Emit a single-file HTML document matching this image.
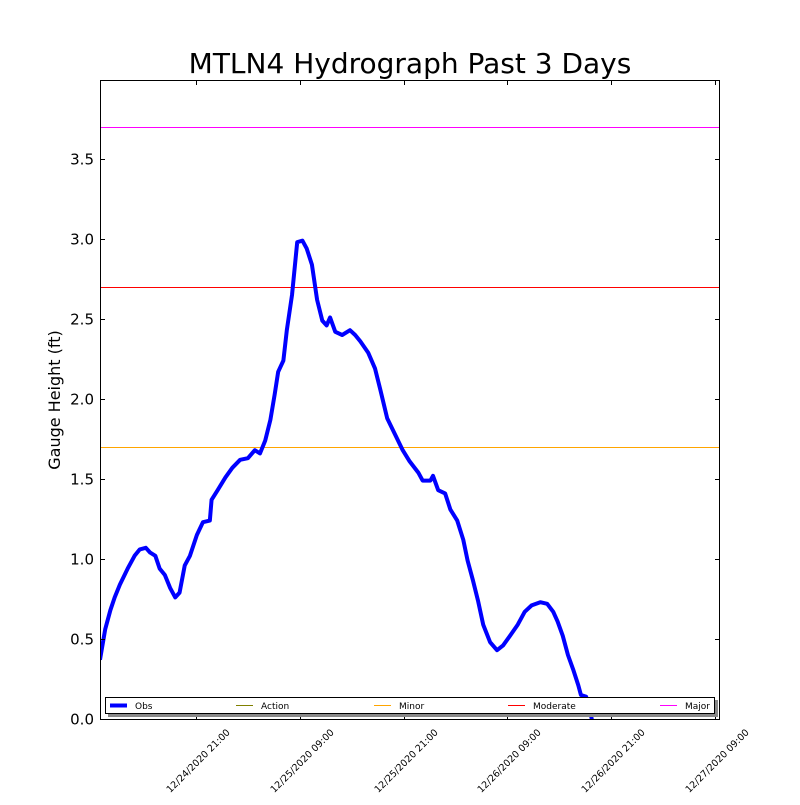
<!DOCTYPE html>
<html><head><meta charset="utf-8"><style>
body{margin:0;background:#fff}
svg text{font-family:"DejaVu Sans","Liberation Sans",sans-serif}
</style></head><body>
<svg id="chart" width="800" height="800" xmlns="http://www.w3.org/2000/svg">
<rect width="800" height="800" fill="#fff"/>
<text x="410" y="73" font-size="28" text-anchor="middle">MTLN4 Hydrograph Past 3 Days</text>
<text transform="translate(60,400) rotate(-90)" font-size="16" text-anchor="middle">Gauge Height (ft)</text>
<defs><clipPath id="plotclip"><rect x="100" y="80" width="620" height="640"/></clipPath></defs>
<g id="thresholds" clip-path="url(#plotclip)"></g>
<g id="series" clip-path="url(#plotclip)"></g>
<rect x="100.5" y="80.5" width="619" height="639" fill="none" stroke="#000" stroke-width="1"/>
<g id="yticks"></g>
<g id="xticks"></g>
<g>
<rect x="108" y="700" width="610" height="17" fill="#888"/>
<rect x="105.5" y="697.5" width="609" height="16" fill="#fff" stroke="#000" stroke-width="1"/>
<g id="legend-items"></g>
</g>
</svg>
<script>
const hours=[9.9,10.5,11.1,11.6,12.2,13.1,13.9,14.5,15.2,15.7,16.3,16.8,17.4,18.0,18.6,19.1,19.7,20.3,21.1,21.8,22.6,22.8,23.5,24.4,25.2,26.1,27.0,27.8,28.4,29.0,29.6,30.1,30.5,31.1,31.5,32.1,32.7,33.3,33.8,34.4,35.0,35.6,36.1,36.5,37.1,37.9,38.8,39.4,40.0,40.9,41.7,42.3,43.1,44.0,44.9,45.7,46.7,47.2,48.1,48.4,49.0,49.8,50.4,51.2,51.9,52.4,53.0,53.6,54.2,55.0,55.8,56.5,57.3,58.2,59.0,59.8,60.8,61.6,62.3,62.8,63.4,64.0,64.6,65.2,65.5,66.1,66.6,66.9];
const stage=[0.37,0.56,0.68,0.76,0.84,0.94,1.02,1.06,1.07,1.04,1.02,0.94,0.90,0.82,0.76,0.79,0.96,1.02,1.15,1.23,1.24,1.37,1.43,1.51,1.57,1.62,1.63,1.68,1.66,1.74,1.87,2.03,2.17,2.24,2.43,2.65,2.98,2.99,2.94,2.84,2.62,2.49,2.46,2.51,2.42,2.40,2.43,2.40,2.36,2.29,2.19,2.06,1.88,1.78,1.68,1.61,1.54,1.49,1.49,1.52,1.43,1.41,1.31,1.24,1.12,0.99,0.87,0.74,0.59,0.48,0.43,0.46,0.52,0.59,0.67,0.71,0.73,0.72,0.67,0.61,0.52,0.40,0.31,0.21,0.15,0.14,0.04,-0.04];
const thresholdNames=["Action","Minor","Moderate","Major"];
const thresholdValues=[null,1.7,2.7,3.7];
const thresholdColors=["#808000","#ffa500","#ff0000","#ff00ff"];
const yTicks=[0.0,0.5,1.0,1.5,2.0,2.5,3.0,3.5];
const xTickHours=[21,33,45,57,69,81];
const xTickLabels=["12/24/2020 21:00","12/25/2020 09:00","12/25/2020 21:00","12/26/2020 09:00","12/26/2020 21:00","12/27/2020 09:00"];
const NS="http://www.w3.org/2000/svg";
const X=h=>196+(h-21)*8.65;
const Y=v=>719-v*160;
function mk(tag,attrs,parent){const e=document.createElementNS(NS,tag);for(const k in attrs)e.setAttribute(k,attrs[k]);parent.appendChild(e);return e;}
const th=document.getElementById('thresholds');
thresholdValues.forEach((v,i)=>{if(v===null)return;
 const yy=Math.round(Y(v))+0.5;
 const l=mk('line',{x1:100,x2:720,y1:yy,y2:yy,stroke:thresholdColors[i],'stroke-width':1},th);
 
 });
const s=document.getElementById('series');
const p=mk('polyline',{points:hours.map((h,i)=>X(h)+','+Y(stage[i])).join(' '),fill:'none',stroke:'#0000ff','stroke-width':4,'stroke-linejoin':'round'},s);


const yt=document.getElementById('yticks');
yTicks.forEach(v=>{const y=Math.round(Y(v))+0.5;
 mk('line',{x1:100,x2:105,y1:y,y2:y,stroke:'#000'},yt);
 mk('line',{x1:715,x2:720,y1:y,y2:y,stroke:'#000'},yt);
 const t=mk('text',{x:94,y:y+5,'font-size':15,'text-anchor':'end'},yt);t.textContent=v.toFixed(1);
 
 });
const xt=document.getElementById('xticks');
xTickHours.forEach((h,i)=>{const x=Math.round(X(h))+0.5;
 mk('line',{x1:x,x2:x,y1:720,y2:715,stroke:'#000'},xt);
 mk('line',{x1:x,x2:x,y1:80,y2:85,stroke:'#000'},xt);
 const t=mk('text',{transform:`translate(${x+34},${733}) rotate(-45)`,'font-size':9.5,'text-anchor':'end'},xt);t.textContent=xTickLabels[i];
 
 });
const lg=document.getElementById('legend-items');
const names=["Obs"].concat(thresholdNames);const cols=["#0000ff"].concat(thresholdColors);
const lx=[110,236,374,508,660];
names.forEach((n,i)=>{const g=mk('g',{},lg);
 
 
 mk('line',{x1:lx[i],x2:lx[i]+17,y1:705.5,y2:705.5,stroke:cols[i],'stroke-width':i==0?4:1},g);
 const t=mk('text',{x:lx[i]+25,y:709,'font-size':9},g);t.textContent=n;});
</script>
</body></html>
